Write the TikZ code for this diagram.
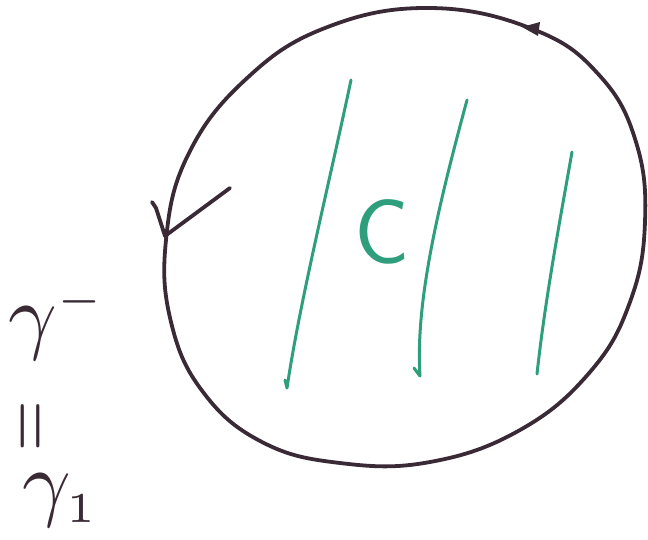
\documentclass[tikz,border=0pt]{standalone}
\usepackage{graphicx}
\definecolor{ink}{HTML}{3A2A35}
\definecolor{grn}{HTML}{2E9E7C}
\begin{document}
\begin{tikzpicture}[x=1pt,y=-1pt,
  curve/.style={draw=ink,line width=3.8pt,line cap=round,line join=round},
  hatch/.style={draw=grn,line width=3pt,line cap=round,line join=round},
  lbl/.style={text=ink,inner sep=0pt}]
\useasboundingbox (0,0) rectangle (648,539);
% closed contour
\draw[curve] plot[smooth cycle,tension=0.7] coordinates {
 (166,240) (188,155) (245,80) (325,28) (430,8) (535,30) (600,76) (636,142)
 (645,222) (630,302) (590,372) (520,430) (430,462) (340,463) (262,442)
 (203,392) (171,322)};
% left arrowhead
\draw[curve] (152,202) -- (156,208) -- (165,236) -- (230,188);
% top arrowhead
\fill[ink] (522,27) -- (540,22) -- (538,36) -- cycle;
% green hatching
\draw[hatch] (351,80) .. controls (330,180) and (300,300) .. (287,388) -- (285,380);
\draw[hatch] (467,100) .. controls (440,200) and (415,300) .. (420,376) -- (414,368);
\draw[hatch] (572,152) .. controls (560,220) and (545,300) .. (537,374);
% labels
\node[text=grn,inner sep=0pt,font=\sffamily\fontsize{92}{92}\selectfont] (c) at (382,232) {C};
\node[lbl,anchor=west] (g) at (8,322) {\scalebox{8.5}{$\gamma^{\scriptscriptstyle -}$}};
\node[lbl] (eq) at (36,426) {\rotatebox{90}{\scalebox{6.5}[8]{$=$}}};
\node[lbl,anchor=west] (g1) at (22,500) {\scalebox{8.5}{$\gamma_{\scriptscriptstyle 1}$}};
\end{tikzpicture}
\end{document}
